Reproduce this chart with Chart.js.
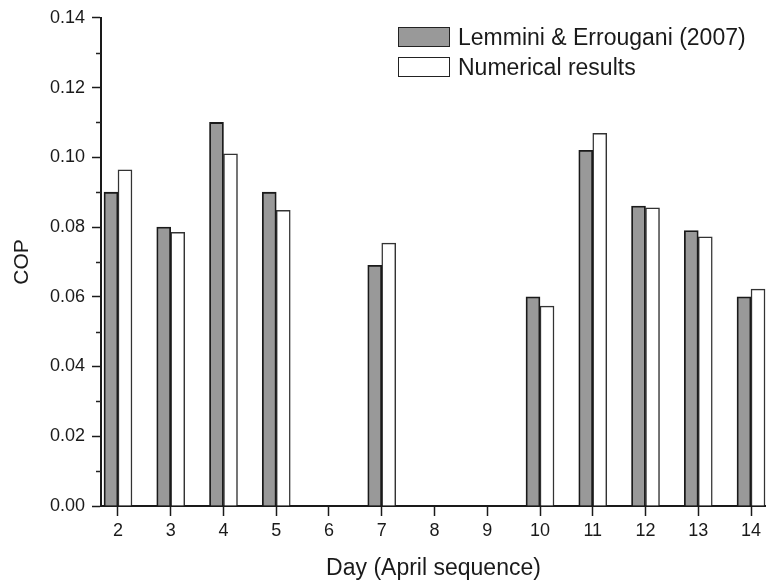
<!DOCTYPE html>
<html>
<head>
<meta charset="utf-8">
<script src="https://cdn.jsdelivr.net/npm/chart.js@4/dist/chart.umd.min.js"></script>
<style>
  body { margin: 0; background: #fff; }
  #wrap { position: relative; width: 766px; height: 585px; }
  .legend { position: absolute; left: 398px; top: 22px; font-family: "Liberation Sans", Arial, sans-serif; font-size: 23px; color: #1a1a1a; }
  .legend .row { display: flex; align-items: center; height: 30px; }
  .legend .box { width: 50px; height: 18px; border: 1.5px solid #222; margin-right: 8px; }
</style>
</head>
<body>
<div id="wrap">
  <canvas id="copChart" width="766" height="585"></canvas>
  <div class="legend" id="legend"></div>
</div>
<script>
// jours d'avril avec des mesures
const days = [2, 3, 4, 5, 7, 10, 11, 12, 13, 14];
const lemmini = [0.090, 0.080, 0.110, 0.090, 0.069, 0.060, 0.102, 0.086, 0.079, 0.060];
const numerical = [0.0964, 0.0785, 0.101, 0.0848, 0.0754, 0.0573, 0.1069, 0.0855, 0.0772, 0.0622];
const dayTicks = [2, 3, 4, 5, 6, 7, 8, 9, 10, 11, 12, 13, 14];
const copTicks = [0, 0.02, 0.04, 0.06, 0.08, 0.10, 0.12, 0.14];
const copMinor = [0.01, 0.03, 0.05, 0.07, 0.09, 0.11, 0.13];

const seriesLabels = ['Lemmini & Errougani (2007)', 'Numerical results'];
const fills = ['#999999', '#ffffff'];

const font = '"Liberation Sans", Arial, sans-serif';

// petites graduations de l'axe Y
const minorTicks = {
  id: 'minorTicks',
  afterDraw(chart) {
    const y = chart.scales.y;
    const ctx = chart.ctx;
    ctx.save();
    ctx.strokeStyle = '#222';
    ctx.lineWidth = 1.5;
    copMinor.forEach(v => {
      const py = Math.round(y.getPixelForValue(v)) + 0.5;
      ctx.beginPath();
      ctx.moveTo(y.right - 5, py);
      ctx.lineTo(y.right, py);
      ctx.stroke();
    });
    ctx.restore();
  }
};

const chart = new Chart(document.getElementById('copChart'), {
  type: 'bar',
  data: {
    datasets: [
      {
        label: seriesLabels[0],
        data: days.map((d, i) => ({ x: d, y: lemmini[i] })),
        backgroundColor: fills[0],
        borderColor: '#1a1a1a',
        borderWidth: 1.8,
        barThickness: 14
      },
      {
        label: seriesLabels[1],
        data: days.map((d, i) => ({ x: d, y: numerical[i] })),
        backgroundColor: fills[1],
        borderColor: '#333',
        borderWidth: 1.5,
        barThickness: 14
      }
    ]
  },
  options: {
    responsive: false,
    animation: false,
    layout: { padding: { top: 16, right: 0, left: 0, bottom: 0 } },
    plugins: { legend: { display: false }, tooltip: { enabled: false } },
    scales: {
      x: {
        type: 'linear',
        min: 1.678,
        max: 14.284,
        offset: false,
        grid: { offset: false, drawOnChartArea: false, tickLength: 10, tickColor: '#1a1a1a', tickWidth: 1.5 },
        border: { color: '#1a1a1a', width: 2 },
        afterFit: s => { s.height = 79; },
        afterBuildTicks: s => { s.ticks = dayTicks.map(v => ({ value: v })); },
        ticks: { color: '#1a1a1a', font: { family: font, size: 18 }, padding: 4, maxRotation: 0, autoSkip: false },
        title: { display: true, text: 'Day (April sequence)', color: '#1a1a1a', font: { family: font, size: 23 }, padding: { top: 0, bottom: 3 } }
      },
      y: {
        min: 0,
        max: 0.14,
        grid: { drawOnChartArea: false, tickLength: 9, tickColor: '#1a1a1a', tickWidth: 1.5 },
        border: { color: '#1a1a1a', width: 2 },
        afterFit: s => { s.width = 101; },
        afterBuildTicks: s => { s.ticks = copTicks.map(v => ({ value: v })); },
        ticks: { color: '#1a1a1a', font: { family: font, size: 18 }, padding: 7, callback: v => v.toFixed(2) },
        title: { display: true, text: 'COP', color: '#1a1a1a', font: { family: font, size: 21 }, padding: { top: 10, bottom: 0 } }
      }
    }
  },
  plugins: [minorTicks]
});

// légende HTML
const legend = document.getElementById('legend');
chart.data.datasets.forEach(ds => {
  const row = document.createElement('div');
  row.className = 'row';
  const box = document.createElement('span');
  box.className = 'box';
  box.style.background = ds.backgroundColor;
  const txt = document.createElement('span');
  txt.textContent = ds.label;
  row.appendChild(box);
  row.appendChild(txt);
  legend.appendChild(row);
});
</script>
</body>
</html>
